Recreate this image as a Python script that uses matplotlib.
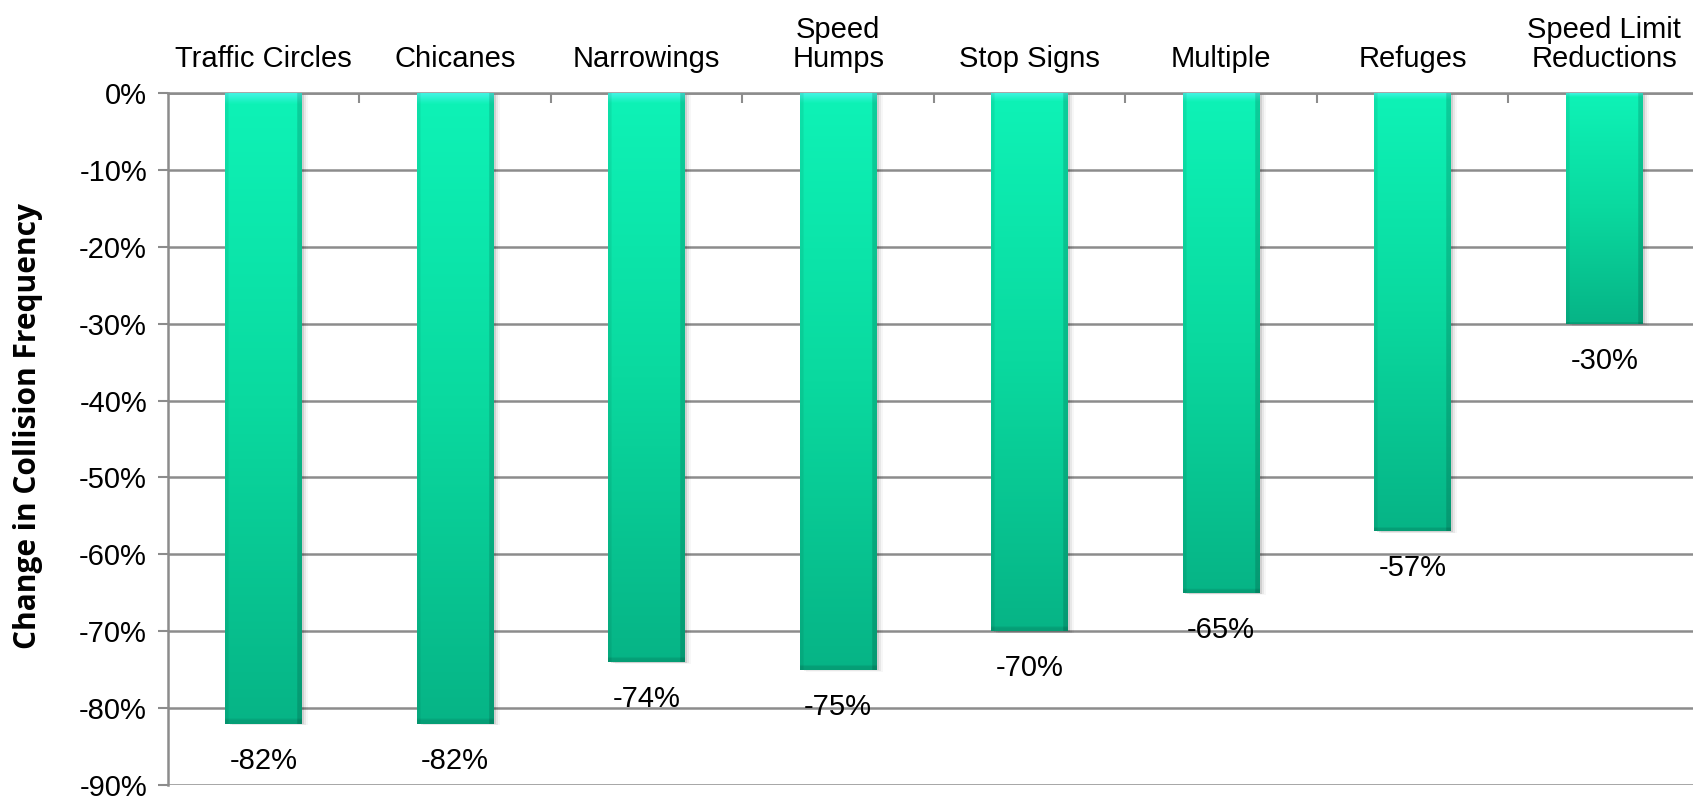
import numpy as np
import matplotlib
matplotlib.use("Agg")
import matplotlib.pyplot as plt
from matplotlib.colors import LinearSegmentedColormap
from matplotlib.patches import Rectangle

categories = ["Traffic Circles", "Chicanes", "Narrowings", "Speed\nHumps",
              "Stop Signs", "Multiple", "Refuges", "Speed Limit\nReductions"]
values = [-82, -82, -74, -75, -70, -65, -57, -30]
yticks = [0, -10, -20, -30, -40, -50, -60, -70, -80, -90]

plt.rcParams['font.family'] = ['Liberation Sans', 'DejaVu Sans']

GRID = '#8c8c8c'
BAR_W = 0.40

fig = plt.figure(figsize=(16.93, 7.99), dpi=100)
ax = fig.add_axes([0.0992, 0.0175, 0.9008, 0.8661])

# bar gradient: light aqua at the top, darker green at the bottom
cmap = LinearSegmentedColormap.from_list(
    'bar', [(0.0, '#3ff4e0'), (0.015, '#0ef2b6'), (0.5, '#0ad99f'), (1.0, '#06b486')])
grad = np.linspace(0, 1, 256).reshape(-1, 1)
# darken the edges a bit to fake the bevel
edge = np.ones((1, 64))
edge[0, :3] = 0.93
edge[0, -4:] = 0.85

x = np.arange(len(categories))
for xi, v in zip(x, values):
    # soft shadow
    for k, a in [(0.012, 0.10), (0.022, 0.06), (0.032, 0.03)]:
        ax.add_patch(Rectangle((xi - BAR_W / 2 + k, v - k * 8), BAR_W, -v,
                               facecolor='black', edgecolor='none', alpha=a, zorder=2))
    rgb = cmap(grad)[:, :, :3] * edge[..., None]
    rgb[-2:, :, :] *= 0.88
    ax.imshow(rgb, extent=[xi - BAR_W / 2, xi + BAR_W / 2, v, 0],
              aspect='auto', origin='upper', zorder=3, interpolation='bilinear')
    ax.text(xi, v - 3.0, f"{v}%", ha='center', va='top', fontsize=21, zorder=4)

ax.set_xlim(-0.5, 7.4635)
ax.set_ylim(-90, 0)
ax.set_aspect('auto')

ax.set_yticks(yticks)
ax.set_yticklabels([f"{t}%" for t in yticks], fontsize=21)
ax.yaxis.grid(True, color=GRID, linewidth=1.8, zorder=1)
ax.set_axisbelow(True)

# category boundary ticks along the 0% line
ax.xaxis.tick_top()
ax.set_xticks(np.arange(0.5, len(categories) - 0.5, 1.0))
ax.set_xticklabels([])
ax.tick_params(axis='x', direction='in', length=7, width=1.5, color=GRID)
ax.tick_params(axis='y', direction='out', length=7, width=1.5, color=GRID, pad=8)

for s in ['right', 'bottom']:
    ax.spines[s].set_visible(False)
for s in ['left', 'top']:
    ax.spines[s].set_color(GRID)
    ax.spines[s].set_linewidth(1.8)

for xi, c in zip(x, categories):
    ax.annotate(c, xy=(xi, 0), xycoords='data', xytext=(0, 19), textcoords='offset points',
                ha='center', va='baseline', fontsize=21, linespacing=1.05)

fig.text(0.0165, 0.467, "Change in Collision Frequency", rotation=90,
         ha='center', va='center', fontsize=21.5, fontweight='bold',
         family=['Open Sans', 'DejaVu Sans'])

fig.savefig("out.png", dpi=100)
